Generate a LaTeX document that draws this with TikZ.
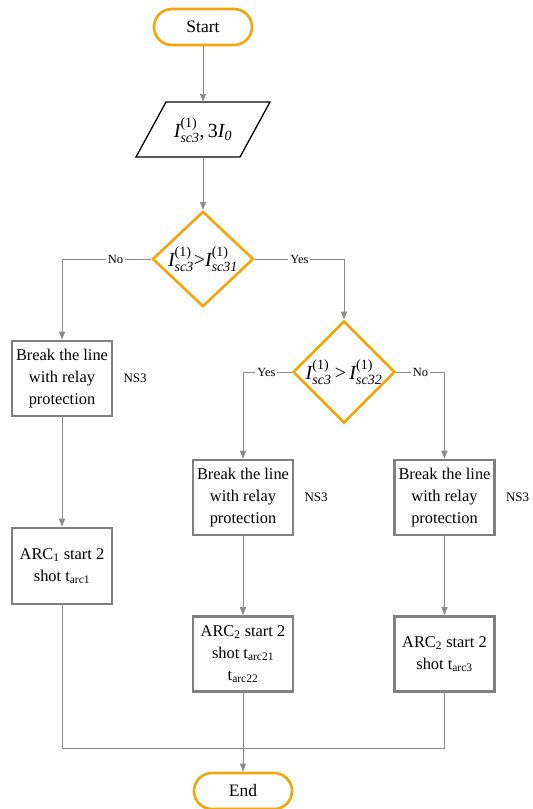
\documentclass[tikz,border=0pt]{standalone}
\usepackage{fontspec}
\usepackage{amsmath}
\setmainfont{LiberationSerif-Regular.ttf}[ItalicFont=LiberationSerif-Italic.ttf,BoldFont=LiberationSerif-Bold.ttf]
\usetikzlibrary{shapes.geometric,arrows.meta,calc}
\definecolor{orng}{RGB}{242,166,12}
\definecolor{boxgray}{RGB}{128,128,128}
\definecolor{lgray}{RGB}{140,140,140}
\newcommand{\Isc}[1]{\textit{I}^{\text{(1)}}_{\text{\itshape #1}}}
\begin{document}
\begin{tikzpicture}[x=1pt,y=-1pt,
  term/.style={draw=orng,line width=2.6pt,rectangle,rounded corners=18pt,minimum width=98pt,minimum height=36pt,font=\fontsize{17.5}{20}\selectfont},
  proc/.style={draw=boxgray,line width=2.6pt,rectangle,minimum width=100pt,minimum height=75pt,align=center,inner sep=1pt,font=\fontsize{16.4}{22}\selectfont},
  dec/.style={draw=orng,line width=2.6pt,diamond,minimum width=101pt,minimum height=77pt,inner sep=0pt,font=\fontsize{20}{24}\selectfont},
  conn/.style={draw=lgray,line width=0.9pt},
  arr/.style={conn,-{Triangle[length=8pt,width=6pt]}},
  lbl/.style={fill=white,inner sep=2pt,font=\fontsize{12.5}{14}\selectfont},
  ns/.style={font=\fontsize{13}{15}\selectfont,inner sep=0pt,anchor=west}]
\useasboundingbox (0,0) rectangle (533,809);
\node[term] (start) at (203,27) {Start};
\node[minimum width=80pt,minimum height=56pt,inner sep=0pt,font=\fontsize{20}{24}\selectfont] (inp) at (203,130) {$\Isc{sc3}\text{,\,3\itshape I}_{\text{\itshape 0}}$};
\draw[line width=1.3pt,black] ($(inp.center)+(-37,-28)$) -- ($(inp.center)+(67,-28)$) -- ($(inp.center)+(37,27)$) -- ($(inp.center)+(-67,27)$) -- cycle;
\node[dec] (d1) at (203,259) {$\Isc{sc3}\text{>}\Isc{sc31}$};
\node[dec] (d2) at (344,372) {$\Isc{sc3}\text{\,>\,}\Isc{sc32}$};
\node[proc] (b1) at (62,378.5) {Break the line\\with relay\\protection};
\node[proc,minimum height=76pt] (b2) at (62,566) {ARC\textsubscript{1} start 2\\shot t\textsubscript{arc1}};
\node[proc] (b3) at (243,497.5) {Break the line\\with relay\\protection};
\node[proc] (b4) at (444.5,497.5) {Break the line\\with relay\\protection};
\node[proc] (b5) at (243,654) {ARC\textsubscript{2} start 2\\shot t\textsubscript{arc21}\\t\textsubscript{arc22}};
\node[proc] (b6) at (444.5,654) {ARC\textsubscript{2} start 2\\shot t\textsubscript{arc3}};
\node[ns] (n1) at ([xshift=10pt]b1.east) {NS3};
\node[ns] (n3) at ([xshift=10pt]b3.east) {NS3};
\node[ns] (n4) at ([xshift=10pt]b4.east) {NS3};
\node[term] (end) at (243,791) {End};
\coordinate (mL) at (62,748);
\coordinate (mR) at (444.5,748);
\draw[arr] (start.south) -- (inp.north);
\draw[arr] (inp.south) -- (d1.north);
\draw[arr] (d1.west) -| node[lbl,pos=0.2] {No} (b1.north);
\draw[arr] (d1.east) -| node[lbl,pos=0.25] {Yes} (d2.north);
\draw[arr] (d2.west) -| node[lbl,pos=0.26] {Yes} (b3.north);
\draw[arr] (d2.east) -| node[lbl,pos=0.25] {No} (b4.north);
\draw[arr] (b1.south) -- (b2.north);
\draw[arr] (b3.south) -- (b5.north);
\draw[arr] (b4.south) -- (b6.north);
\draw[conn] (b2.south) -- (mL) -- (mR) -- (b6.south);
\draw[arr] (b5.south) -- (end.north);
\end{tikzpicture}
\end{document}
